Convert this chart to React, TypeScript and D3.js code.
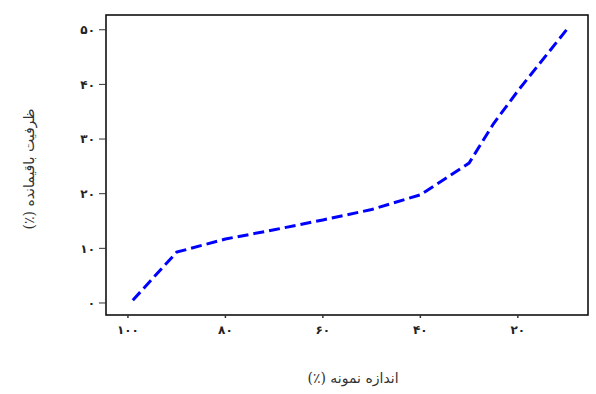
import React from "react";
import * as d3 from "d3";

const sampleSize: number[] = [99, 90, 80, 70, 60, 50, 40, 30, 25, 20, 10];
const remainingCapacity: number[] = [0.5, 9.3, 11.7, 13.4, 15.2, 17.1, 19.8, 25.6, 32.8, 38.8, 50];
const xTicks: number[] = [100, 80, 60, 40, 20];
const yTicks: number[] = [0, 10, 20, 30, 40, 50];
const xTitle = "اندازه نمونه (٪)";
const yTitle = "ظرفیت باقیمانده (٪)";

const toPersian = (n: number) =>
  String(n).replace(/\d/g, (d) => "۰۱۲۳۴۵۶۷۸۹"[+d]);

const W = 596;
const H = 394;
const box = { left: 106, right: 588, top: 15, bottom: 315 };
const font = "'DejaVu Serif', 'DejaVu Sans', serif";

export default function App() {
  const x = d3.scaleLinear().domain([104.5, 5.6]).range([box.left, box.right]);
  const y = d3.scaleLinear().domain([-2.2, 52.7]).range([box.bottom, box.top]);
  const line = d3
    .line<number>()
    .x((_, i) => x(sampleSize[i]))
    .y((d) => y(d));
  const path = line(remainingCapacity) || "";

  return (
    <svg
      width={W}
      height={H}
      style={{ position: "absolute", left: 0, top: 0, background: "#fff" }}
    >
      <rect x={0} y={0} width={W} height={H} fill="#fff" />
      <rect
        x={box.left}
        y={box.top}
        width={box.right - box.left}
        height={box.bottom - box.top}
        fill="#fff"
        stroke="#111"
        strokeWidth={1.6}
      />
      {yTicks.map((t) => (
        <g key={"y" + t}>
          <line x1={box.left - 7} x2={box.left} y1={y(t)} y2={y(t)} stroke="#333" strokeWidth={1} />
          <text
            x={box.left - 11}
            y={y(t)}
            dy="0.35em"
            textAnchor="end"
            fontSize={12}
            fontWeight="bold"
            fontFamily={font}
            fill="#222"
          >
            {toPersian(t)}
          </text>
        </g>
      ))}
      {xTicks.map((t) => (
        <g key={"x" + t}>
          <line x1={x(t)} x2={x(t)} y1={box.bottom} y2={box.bottom + 3} stroke="#333" strokeWidth={1.5} />
          <text
            x={x(t)}
            y={box.bottom + 19}
            textAnchor="middle"
            fontSize={12}
            fontWeight="bold"
            fontFamily={font}
            fill="#222"
          >
            {toPersian(t)}
          </text>
        </g>
      ))}
      <path
        d={path}
        fill="none"
        stroke="#0000ff"
        strokeWidth={3}
        strokeDasharray="11 5"
      />
      <text
        x={(box.left + box.right) / 2 + 6}
        y={383}
        textAnchor="middle"
        direction="rtl"
        fontSize={14}
        fontFamily={font}
        fill="#333"
      >
        {xTitle}
      </text>
      <text
        transform={`translate(34, ${(box.top + box.bottom) / 2 + 4}) rotate(-90)`}
        textAnchor="middle"
        direction="rtl"
        fontSize={14}
        fontFamily={font}
        fill="#333"
      >
        {yTitle}
      </text>
    </svg>
  );
}
